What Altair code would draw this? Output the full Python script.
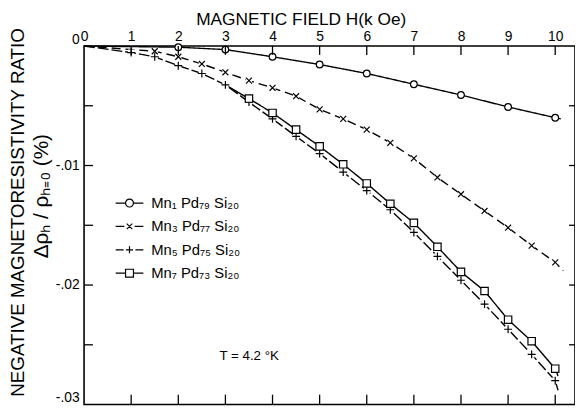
import altair as alt
import pandas as pd

# ---------------- data ----------------
names = ["Mn₁ Pd₇₉ Si₂₀", "Mn₃ Pd₇₇ Si₂₀", "Mn₅ Pd₇₅ Si₂₀", "Mn₇ Pd₇₃ Si₂₀"]

mn1_h = [2, 3, 4, 5, 6, 7, 8, 9, 10]
mn1_r = [-0.0001, -0.0003, -0.0009, -0.00155, -0.0023, -0.0032, -0.0041, -0.0051, -0.0060]

mn3_h = [1.5, 2, 2.5, 3, 3.5, 4, 4.5, 5, 5.5, 6, 6.5, 7, 7.5, 8, 8.5, 9, 9.5, 10]
mn3_r = [-0.00044, -0.0009, -0.0015, -0.0022, -0.0029, -0.0035, -0.0042, -0.0053, -0.0061,
         -0.0070, -0.0081, -0.0094, -0.0110, -0.0124, -0.0138, -0.0152, -0.0167, -0.0181]

mn5_h = [1, 1.5, 2, 2.5, 3, 3.5, 4, 4.5, 5, 5.5, 6, 6.5, 7, 7.5, 8, 8.5, 9, 9.5, 10]
mn5_r = [-0.00055, -0.0009, -0.00165, -0.0023, -0.00325, -0.0047, -0.0061, -0.00756, -0.0090,
         -0.01055, -0.0121, -0.0137, -0.0156, -0.0176, -0.0196, -0.0216, -0.0237, -0.0258, -0.0280]

mn7_h = [3.5, 4, 4.5, 5, 5.5, 6, 6.5, 7, 7.5, 8, 8.5, 9, 9.5, 10]
mn7_r = [-0.0044, -0.0056, -0.0070, -0.0084, -0.0099, -0.0115, -0.0132, -0.0148, -0.0168,
         -0.0189, -0.0205, -0.0229, -0.0247, -0.0270]

# where each drawn curve begins and ends
curve_start_h = [0, 0, 0, 3.0]
curve_start_r = [0, 0, 0, -0.00325]
curve_end_h = [10.12, 10.17, 10.06, 10.06]
curve_end_r = [-0.0061, -0.0188, -0.0288, -0.0276]

h_tick_labels = [0, 1, 2, 3, 4, 5, 6, 7, 8, 9, 10]
h_ticks = [1, 2, 3, 4, 5, 6, 7, 8, 9, 10]
r_tick_labels = [0, -0.01, -0.02, -0.03]
r_ticks = [-0.005, -0.01, -0.015, -0.02, -0.025]

y_title_1 = "NEGATIVE MAGNETORESISTIVITY RATIO"
y_title_2 = ["Δρₕ  / ρₕ₌₀    (%)"]
note = ["T = 4.2   °K"]

# ---------------- tables ----------------
series_h = [mn1_h, mn3_h, mn5_h, mn7_h]
series_r = [mn1_r, mn3_r, mn5_r, mn7_r]

pts = []
lines = []
for i, name in enumerate(names):
    lines.append({"series": name, "h": curve_start_h[i], "r": curve_start_r[i]})
    for h, r in zip(series_h[i], series_r[i]):
        pts.append({"series": name, "h": h, "r": r})
        lines.append({"series": name, "h": h, "r": r})
    lines.append({"series": name, "h": curve_end_h[i], "r": curve_end_r[i]})
pts_df = pd.DataFrame(pts)
lines_df = pd.DataFrame(lines)
legend_df = pd.DataFrame({"sample": names})

W, H = 497, 363

x_enc = alt.X(
    "h:Q",
    scale=alt.Scale(domain=[0, 10.42], nice=False, zero=False),
    axis=alt.Axis(
        orient="top", values=h_tick_labels, format="d", ticks=False, domain=False, grid=False,
        labelFontSize=14, labelPadding=3, labelFlush=False, labelOverlap=False,
        title="MAGNETIC FIELD H(k Oe)", titleX=113, titleY=-22, titleAlign="left",
        titleBaseline="alphabetic", titleFontSize=17.5, titleFontWeight="normal",
    ),
)
y_enc = alt.Y(
    "r:Q",
    scale=alt.Scale(domain=[-0.03, 0], nice=False, zero=False),
    axis=alt.Axis(
        orient="left", values=r_tick_labels, ticks=False, domain=False, grid=False,
        labelExpr="datum.value == 0 ? '0' : '-.0' + format(-datum.value*100, 'd')",
        labelBaseline={"condition": {"test": "datum.value == 0 || datum.value < -0.025",
                                     "value": "bottom"}, "value": "middle"},
        labelFontSize=14, labelPadding=5, labelFlush=False,
        title=y_title_1,
        titleX=-61, titleY=168, titleAngle=270, titleAlign="center",
        titleBaseline="alphabetic", titleFontSize=19, titleFontWeight="normal",
    ),
)

base_pts = alt.Chart(pts_df)

curves = alt.Chart(lines_df).mark_line(color="black", strokeWidth=1.4).encode(
    x=x_enc, y=y_enc, detail="series:N",
    strokeDash=alt.StrokeDash(
        "series:N",
        scale=alt.Scale(domain=names, range=[[1, 0], [9, 5], [11, 3], [1, 0]]),
        legend=None,
    ),
)

XPATH = "M-0.75,-0.75L0.75,0.75M-0.75,0.75L0.75,-0.75"
PPATH = "M-1,0L1,0M0,-1L0,1"

halo = base_pts.transform_filter(
    alt.FieldOneOfPredicate(field="series", oneOf=[names[1], names[2]])
).mark_point(shape="square", size=40, filled=True, color="white", opacity=1).encode(x=x_enc, y=y_enc)

circles = base_pts.transform_filter(alt.datum.series == names[0]).mark_point(
    shape="circle", size=46, filled=True, fill="white", stroke="black", strokeWidth=1.2, opacity=1
).encode(x=x_enc, y=y_enc)

crosses = base_pts.transform_filter(alt.datum.series == names[1]).mark_point(
    shape=XPATH, size=64, filled=False, stroke="black", strokeWidth=1.2, opacity=1
).encode(x=x_enc, y=y_enc)

pluses = base_pts.transform_filter(alt.datum.series == names[2]).mark_point(
    shape=PPATH, size=64, filled=False, stroke="black", strokeWidth=1.2, opacity=1
).encode(x=x_enc, y=y_enc)

squares = base_pts.transform_filter(alt.datum.series == names[3]).mark_point(
    shape="square", size=56, filled=True, fill="white", stroke="black", strokeWidth=1.2, opacity=1
).encode(x=x_enc, y=y_enc)

# ---------------- legend key drawn inside the plot ----------------
legend_paths = [
    "M-3.5,0L-1,0M1,0L3.5,0M-1,0A1,1 0 1,1 1,0A1,1 0 1,1 -1,0",
    "M-3.5,0L-1.3,0M1.3,0L3.5,0M-0.7,-0.7L0.7,0.7M-0.7,0.7L0.7,-0.7",
    "M-3.5,0L-1.5,0M1.5,0L3.5,0M-0.9,0L0.9,0M0,-0.9L0,0.9",
    "M-3.5,0L-1,0M1,0L3.5,0M-1,-1L1,-1L1,1L-1,1Z",
]
row_off = alt.YOffset("sample:N", scale=alt.Scale(type="point", domain=names, range=[0, 71], padding=0))
legend_symbols = alt.Chart(legend_df).mark_point(
    filled=True, fill="white", stroke="black", strokeWidth=1.2, opacity=1, size=64
).encode(
    x=alt.value(46), y=alt.value(159), yOffset=row_off,
    shape=alt.Shape("sample:N", scale=alt.Scale(domain=names, range=legend_paths), legend=None),
)
legend_labels = alt.Chart(legend_df).mark_text(
    align="left", baseline="middle", fontSize=15, color="black"
).encode(x=alt.value(68), y=alt.value(159), yOffset=row_off, text="sample:N")

# inward tick marks on all four sides
xt = alt.Chart(pd.DataFrame({"h": h_ticks}))
yt = alt.Chart(pd.DataFrame({"r": r_ticks}))
top_ticks = xt.mark_rule(color="black", strokeWidth=1.3).encode(x=x_enc, y=alt.value(0), y2=alt.value(9))
bot_ticks = xt.mark_rule(color="black", strokeWidth=1.3).encode(x=x_enc, y=alt.value(H), y2=alt.value(H - 10))
left_ticks = yt.mark_rule(color="black", strokeWidth=1.3).encode(y=y_enc, x=alt.value(0), x2=alt.value(9))
right_ticks = yt.mark_rule(color="black", strokeWidth=1.3).encode(y=y_enc, x=alt.value(W), x2=alt.value(W - 6))

note_layer = alt.Chart(pd.DataFrame({"t": note})).mark_text(
    align="left", baseline="middle", fontSize=13.5, color="black"
).encode(x=alt.value(137), y=alt.value(314), text="t:N")

ytitle2_layer = alt.Chart(pd.DataFrame({"t": y_title_2})).mark_text(
    align="center", baseline="alphabetic", angle=270, fontSize=21, color="black"
).encode(x=alt.value(-37), y=alt.value(152), text="t:N")

chart = alt.layer(
    curves, halo, circles, crosses, pluses, squares, legend_symbols, legend_labels,
    top_ticks, bot_ticks, left_ticks, right_ticks, note_layer, ytitle2_layer,
).properties(
    width=W, height=H,
    autosize=alt.AutoSizeParams(type="none"),
    padding={"left": 77, "top": 36, "right": 0, "bottom": 0},
).configure(
    font="Liberation Sans",
).configure_view(
    stroke="black", strokeWidth=1.6,
).configure_axis(
    labelColor="black", titleColor="black",
)

chart.save("out.html", embed_options={"renderer": "svg", "actions": False})
